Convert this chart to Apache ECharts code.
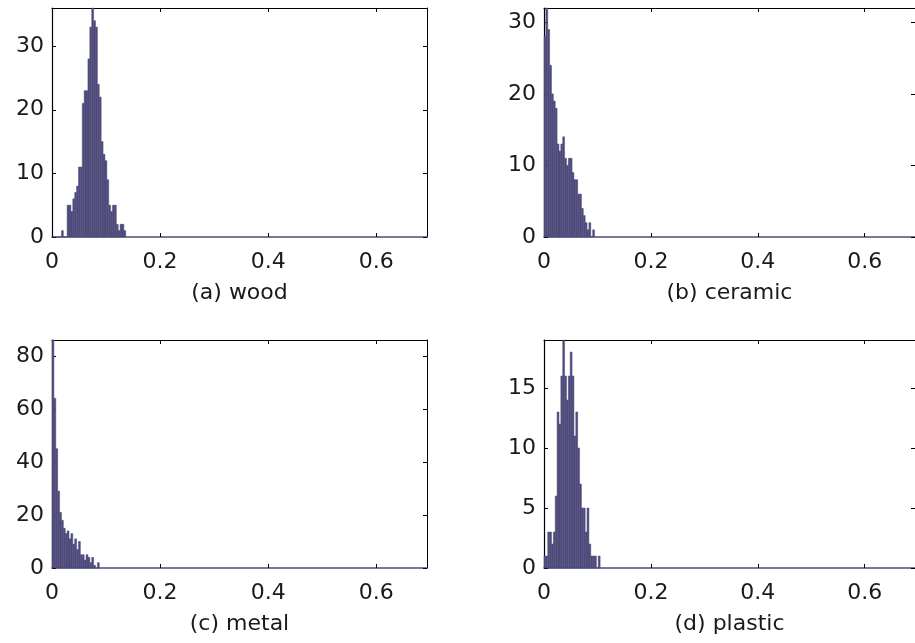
<!DOCTYPE html>
<html>
<head>
<meta charset="utf-8">
<script src="https://cdn.jsdelivr.net/npm/echarts@6/dist/echarts.min.js"></script>
<style>
html,body{margin:0;padding:0;background:#fff;}
#chart{width:915px;height:643px;}
</style>
</head>
<body>
<div id="chart"></div>
<script>
// ---- data ----
const binWidth = 0.0035;
const xMax = 0.694;
const xTicks = [0, 0.2, 0.4, 0.6];
const captions = ['(a) wood', '(b) ceramic', '(c) metal', '(d) plastic'];
// counts per bin, starting at x = 0
const woodCounts = [0,0,0,0,0,1,0,0,5,5,4,6,7,8,11,11,21,23,23,28,33,36,34,33,24,22,15,13,12,9,5,4,5,5,2,1,2,2,1];
const ceramicCounts = [28,32,29,24,20,19,18,13,12,13,14,11,10,11,11,9,8,8,6,6,4,3,2,1,2,0,1];
const metalCounts = [86,64,45,29,21,18,15,13,14,11,13,9,11,7,10,5,5,3,5,4,2,4,1,0,2];
const plasticCounts = [1,1,3,3,2,3,6,13,12,16,19,16,14,16,18,16,11,13,10,7,5,5,3,5,2,1,1,1,0,1];
const yMaxes = [36, 32, 86, 19];
const yIntervals = [10, 10, 20, 5];

const allCounts = [woodCounts, ceramicCounts, metalCounts, plasticCounts];
const barColor = '#4e4b7b';
const textColor = '#1a1a1a';
const FONT = 'DejaVu Sans, sans-serif';

const grids = [
  {left: 52, top: 8, width: 375, height: 229},
  {left: 544, top: 8, width: 375, height: 229},
  {left: 52, top: 340, width: 375, height: 228},
  {left: 544, top: 340, width: 375, height: 228}
];

const xAxis = [], yAxis = [], series = [];
grids.forEach((g, i) => {
  xAxis.push({
    type: 'value', gridIndex: i, min: 0, max: xMax, interval: 0.2, position: 'bottom',
    name: captions[i], nameLocation: 'middle', nameGap: 45,
    nameTextStyle: {fontFamily: FONT, fontSize: 22, color: textColor},
    axisLine: {show: true, onZero: false, lineStyle: {color: barColor, width: 1.5}},
    axisTick: {show: true, inside: true, length: 4, lineStyle: {color: '#000'}},
    axisLabel: {show: true, fontFamily: FONT, fontSize: 22, color: textColor, margin: 14, showMaxLabel: false,
      formatter: v => (xTicks.some(t => Math.abs(t - v) < 1e-9) ? String(v) : '')},
    splitLine: {show: false}
  });
  xAxis.push({
    type: 'value', gridIndex: i, min: 0, max: xMax, interval: 0.2, position: 'top',
    axisLine: {show: true, onZero: false, lineStyle: {color: '#000', width: 1}},
    axisTick: {show: true, inside: true, length: 4, lineStyle: {color: '#000'}},
    axisLabel: {show: false}, splitLine: {show: false}
  });
  yAxis.push({
    type: 'value', gridIndex: i, min: 0, max: yMaxes[i], interval: yIntervals[i], position: 'left',
    axisLine: {show: true, onZero: false, lineStyle: {color: '#000', width: 1.2}},
    axisTick: {show: true, inside: true, length: 4, lineStyle: {color: '#000'}},
    axisLabel: {show: true, fontFamily: FONT, fontSize: 22, color: textColor, margin: 8, showMaxLabel: false},
    splitLine: {show: false}
  });
  yAxis.push({
    type: 'value', gridIndex: i, min: 0, max: yMaxes[i], interval: yIntervals[i], position: 'right',
    axisLine: {show: true, onZero: false, lineStyle: {color: '#000', width: 1}},
    axisTick: {show: true, inside: true, length: 4, lineStyle: {color: '#000'}},
    axisLabel: {show: false}, splitLine: {show: false}
  });
  const data = allCounts[i].map((c, k) => [k * binWidth, (k + 1) * binWidth, c]);
  series.push({
    type: 'custom', xAxisIndex: i * 2, yAxisIndex: i * 2, data: data, z: 1,
    renderItem: function (params, api) {
      const p0 = api.coord([api.value(0), api.value(2)]);
      const p1 = api.coord([api.value(1), 0]);
      return {
        type: 'rect',
        shape: {x: p0[0], y: p0[1], width: p1[0] - p0[0], height: p1[1] - p0[1]},
        style: {fill: barColor, stroke: barColor, lineWidth: 0.5}
      };
    },
    encode: {x: [0, 1], y: 2}
  });
});

const chart = echarts.init(document.getElementById('chart'), null, {renderer: 'canvas'});
chart.setOption({
  animation: false,
  backgroundColor: '#fff',
  grid: grids,
  xAxis: xAxis,
  yAxis: yAxis,
  series: series
});
</script>
</body>
</html>
